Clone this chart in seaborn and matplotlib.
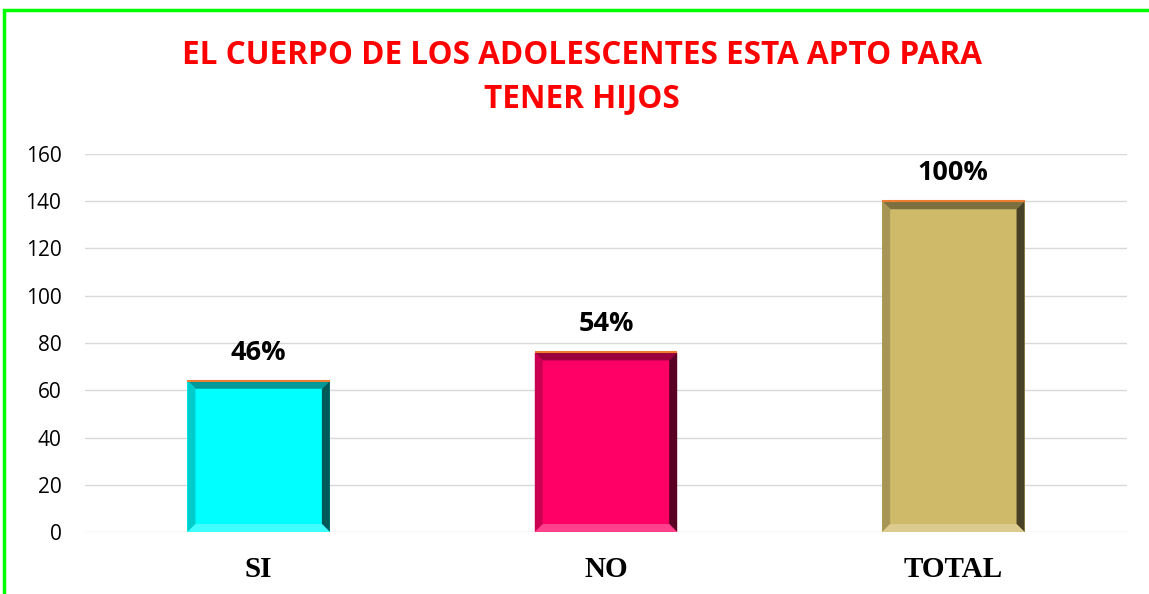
import matplotlib
matplotlib.use("Agg")
import matplotlib.pyplot as plt
import seaborn as sns
import pandas as pd
from matplotlib.patches import Polygon, Rectangle
import matplotlib.colors as mcolors

categories = ["SI", "NO", "TOTAL"]
values = [64, 76, 140]
labels = ["46%", "54%", "100%"]
colors = ["#00FFFF", "#FF0066", "#CFBA6A"]

sns.set_theme(style="white")
plt.rcParams['font.family'] = ['Open Sans', 'DejaVu Sans']

fig = plt.figure(figsize=(11.49, 5.94), dpi=100)
ax = fig.add_axes([85/1149, 1-532/594, (1127-85)/1149, (532-154)/594])

df = pd.DataFrame({"cat": categories, "val": values})
sns.barplot(data=df, x="cat", y="val", hue="cat", palette=colors, width=0.41,
            legend=False, ax=ax, saturation=1, edgecolor="none")

ax.set_xlim(-0.5, 2.5)
ax.set_ylim(0, 160)
ax.set_yticks(range(0, 161, 20))
ax.yaxis.grid(True, color="#D9D9D9", linewidth=1)
ax.set_axisbelow(True)
for s in ax.spines.values():
    s.set_visible(False)
ax.set_xlabel("")
ax.set_ylabel("")
ax.tick_params(axis="y", length=0, labelsize=15, pad=17, colors="black")
ax.tick_params(axis="x", length=0, pad=17, colors="black")
for t in ax.get_xticklabels():
    t.set_fontfamily("Liberation Serif")
    t.set_fontweight("bold")
    t.set_fontsize(21)
    t.set_color("black")
for t in ax.get_yticklabels():
    t.set_fontfamily("Open Sans")

# bevel effect drawn from bar patches
fig.canvas.draw()
inv = ax.transData.inverted()
bw = 8  # pixels
for p, c in zip(ax.patches, colors):
    x0, y0 = ax.transData.transform((p.get_x(), p.get_y()))
    x1, y1 = ax.transData.transform((p.get_x() + p.get_width(), p.get_y() + p.get_height()))
    base = mcolors.to_rgb(c)
    def shade(f):
        if f < 1:
            return tuple(v * f for v in base)
        return tuple(v + (1 - v) * (f - 1) for v in base)
    quads = {
        "top": ([(x0, y1), (x1, y1), (x1 - bw, y1 - bw), (x0 + bw, y1 - bw)], shade(0.6)),
        "left": ([(x0, y0), (x0, y1), (x0 + bw, y1 - bw), (x0 + bw, y0 + bw)], shade(0.8)),
        "right": ([(x1, y0), (x1, y1), (x1 - bw, y1 - bw), (x1 - bw, y0 + bw)], shade(0.35)),
        "bottom": ([(x0, y0), (x1, y0), (x1 - bw, y0 + bw), (x0 + bw, y0 + bw)], shade(1.25)),
    }
    for k, (pts, col) in quads.items():
        dpts = [inv.transform(pt) for pt in pts]
        ax.add_patch(Polygon(dpts, closed=True, facecolor=col, edgecolor="none", zorder=3))
    ax.plot([p.get_x(), p.get_x() + p.get_width()], [p.get_height(), p.get_height()],
            color="#ED7D31", linewidth=1.5, zorder=4, solid_capstyle="butt")

for i, (v, lab) in enumerate(zip(values, labels)):
    ax.annotate(lab, (i, v), xytext=(0, 11), textcoords="offset points",
                ha="center", va="bottom", fontsize=19.5, fontweight="bold",
                color="black", family="Open Sans")

fig.text(582/1149, 1-55/594, "EL CUERPO DE LOS ADOLESCENTES ESTA APTO PARA",
         ha="center", va="center", color="#FF0000", fontsize=22.7, fontweight="bold",
         family="Open Sans")
fig.text(582/1149, 1-99/594, "TENER HIJOS",
         ha="center", va="center", color="#FF0000", fontsize=22.7, fontweight="bold",
         family="Open Sans")

fig.add_artist(Rectangle((4/1149, -0.1), 1.2, 1 - 10/594 + 0.1, transform=fig.transFigure,
                         fill=False, edgecolor="#00FF00", linewidth=2.5))

fig.savefig("out.png", dpi=100)
